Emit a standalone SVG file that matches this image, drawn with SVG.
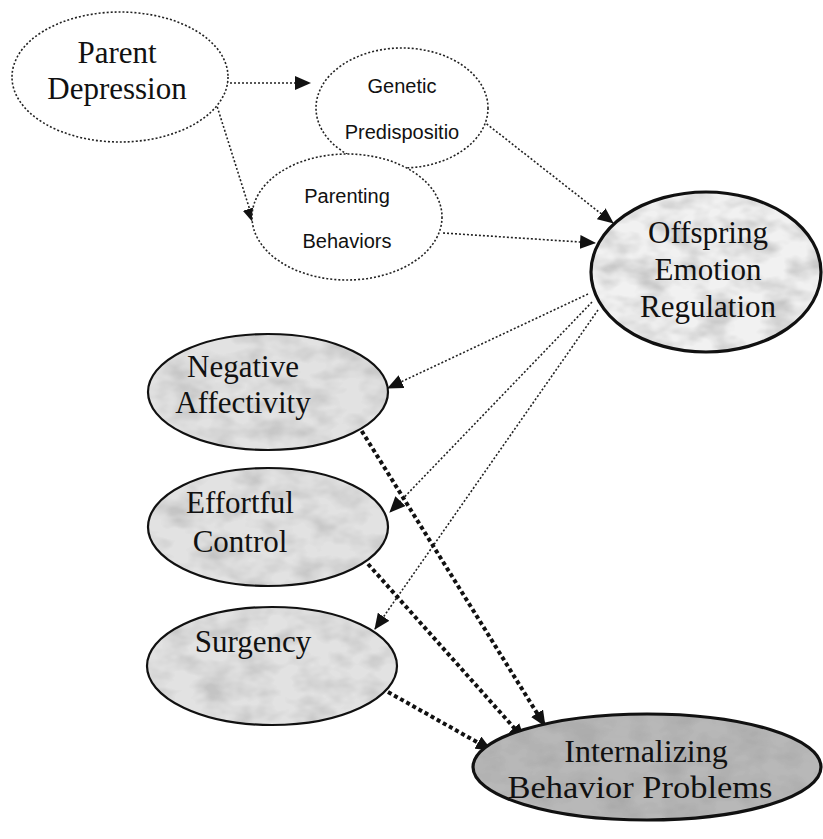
<svg xmlns="http://www.w3.org/2000/svg" width="823" height="839" viewBox="0 0 823 839">
<style>
.serif{font-family:"Liberation Serif","Times New Roman",serif;font-size:31px;fill:#111;text-anchor:middle}
.sans{font-family:"Liberation Sans",Arial,sans-serif;font-size:20px;fill:#111;text-anchor:middle}
.dotnode{fill:#fff;stroke:#222;stroke-width:1.6;stroke-dasharray:2 2}
.solid{fill:none;stroke:#111;stroke-width:2.2}
.thick{fill:none;stroke:#111;stroke-width:3.2}
.thin{fill:none;stroke:#222;stroke-width:1.6;stroke-dasharray:2 2}
.heavy{fill:none;stroke:#111;stroke-width:4;stroke-dasharray:4 3}
</style>
<defs>
<marker id="ah" markerUnits="userSpaceOnUse" markerWidth="16" markerHeight="14" refX="15" refY="7" orient="auto">
<path d="M0,0 L16,7 L0,14 Z" fill="#111"/>
</marker>
<filter id="tex" x="0" y="0" width="1" height="1">
<feTurbulence type="fractalNoise" baseFrequency="0.03 0.05" numOctaves="3" seed="4" result="n"/>
<feColorMatrix in="n" type="matrix" values="0 0 0 0 0.55 0 0 0 0 0.55 0 0 0 0 0.55 0 0 0 2.2 -0.85" result="g"/>
<feComposite in="g" in2="SourceGraphic" operator="in" result="gi"/>
<feMerge><feMergeNode in="SourceGraphic"/><feMergeNode in="gi"/></feMerge>
</filter>
<filter id="texd" x="0" y="0" width="1" height="1">
<feTurbulence type="fractalNoise" baseFrequency="0.03 0.05" numOctaves="3" seed="9" result="n"/>
<feColorMatrix in="n" type="matrix" values="0 0 0 0 0.4 0 0 0 0 0.4 0 0 0 0 0.4 0 0 0 2.2 -0.8" result="g"/>
<feComposite in="g" in2="SourceGraphic" operator="in" result="gi"/>
<feMerge><feMergeNode in="SourceGraphic"/><feMergeNode in="gi"/></feMerge>
</filter>
</defs>
<rect width="823" height="839" fill="#fff"/>

<g id="connectors">
<line class="thin" x1="218" y1="83" x2="310" y2="83" marker-end="url(#ah)"/>
<line class="thin" x1="210" y1="84" x2="254" y2="223" marker-end="url(#ah)"/>
<line class="thin" x1="474" y1="114" x2="613" y2="223" marker-end="url(#ah)"/>
<line class="thin" x1="443" y1="233" x2="595" y2="243" marker-end="url(#ah)"/>
<line class="thin" x1="588" y1="294" x2="388" y2="388" marker-end="url(#ah)"/>
<line class="thin" x1="592" y1="302" x2="390" y2="512" marker-end="url(#ah)"/>
<line class="thin" x1="598" y1="310" x2="375" y2="629" marker-end="url(#ah)"/>
<line class="heavy" x1="358" y1="425" x2="545" y2="726" marker-end="url(#ah)"/>
<line class="heavy" x1="368" y1="564" x2="524" y2="739" marker-end="url(#ah)"/>
<line class="heavy" x1="388" y1="692" x2="491" y2="750" marker-end="url(#ah)"/>
</g>

<g id="parent-depression">
<ellipse class="dotnode" cx="120" cy="77" rx="108" ry="65"/>
<text class="serif" x="117" y="63">Parent</text>
<text class="serif" x="117" y="99">Depression</text>
</g>

<g id="genetic">
<ellipse class="dotnode" cx="402" cy="108" rx="86" ry="60"/>
<text class="sans" x="402" y="93">Genetic</text>
<text class="sans" x="402" y="139">Predispositio</text>
</g>

<g id="parenting">
<ellipse class="dotnode" cx="347" cy="217" rx="95" ry="63"/>
<text class="sans" x="347" y="203">Parenting</text>
<text class="sans" x="347" y="248">Behaviors</text>
</g>

<g id="offspring">
<ellipse cx="706" cy="272" rx="115" ry="80" fill="#f1f1f1" filter="url(#tex)"/>
<ellipse class="thick" cx="706" cy="272" rx="115" ry="80"/>
<text class="serif" x="708" y="243">Offspring</text>
<text class="serif" x="708" y="280">Emotion</text>
<text class="serif" x="708" y="317">Regulation</text>
</g>

<g id="negative-affectivity">
<ellipse cx="268" cy="392" rx="120" ry="58" fill="#e2e2e2" filter="url(#tex)"/>
<ellipse class="solid" cx="268" cy="392" rx="120" ry="58"/>
<text class="serif" x="243" y="377">Negative</text>
<text class="serif" x="243" y="413">Affectivity</text>
</g>

<g id="effortful-control">
<ellipse cx="268" cy="527" rx="120" ry="59" fill="#e2e2e2" filter="url(#tex)"/>
<ellipse class="solid" cx="268" cy="527" rx="120" ry="59"/>
<text class="serif" x="240" y="513">Effortful</text>
<text class="serif" x="240" y="552">Control</text>
</g>

<g id="surgency">
<ellipse cx="272" cy="666" rx="125" ry="59" fill="#e2e2e2" filter="url(#tex)"/>
<ellipse class="solid" cx="272" cy="666" rx="125" ry="59"/>
<text class="serif" x="253" y="652">Surgency</text>
</g>

<g id="internalizing">
<ellipse cx="647" cy="767" rx="174" ry="53" fill="#b8b8b8" filter="url(#texd)"/>
<ellipse class="thick" cx="647" cy="767" rx="174" ry="53"/>
<text class="serif" x="646" y="762" style="font-size:32px">Internalizing</text>
<text class="serif" x="640" y="798" style="font-size:32px" textLength="265" lengthAdjust="spacingAndGlyphs">Behavior Problems</text>
</g>
</svg>
